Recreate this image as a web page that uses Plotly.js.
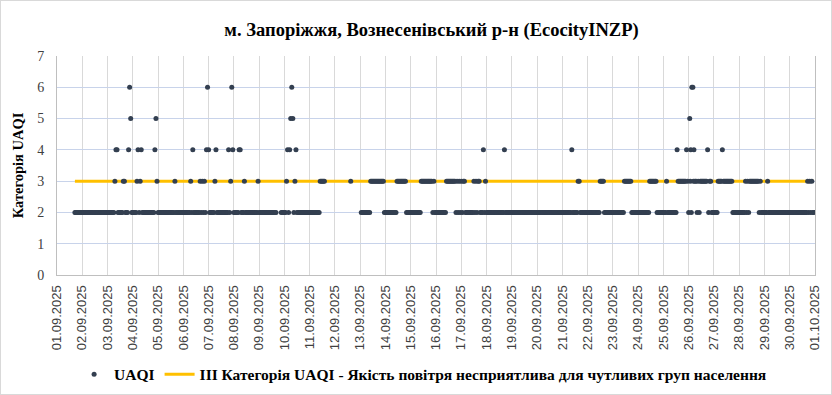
<!DOCTYPE html>
<html>
<head>
<meta charset="utf-8">
<script src="https://cdn.plot.ly/plotly-3.0.1.min.js"></script>
<style>
  html, body { margin: 0; padding: 0; background: #fff; }
  #wrap { position: relative; width: 832px; height: 395px; }
  #chart { width: 832px; height: 395px; }
  #frame { position: absolute; left: 0; top: 0; width: 830px; height: 393px; border: 1px solid #d9d9d9; pointer-events: none; }
</style>
</head>
<body>
<div id="wrap"><div id="chart"></div><div id="frame"></div></div>
<script>
// ---- Data ----
const chartTitle = "м. Запоріжжя, Вознесенівський р-н (EcocityINZP)";
const yTitle = "Категорія UAQI";
const seriesName = "UAQI";
const thresholdName = "ІІІ Категорія UAQI - Якість повітря несприятлива для чутливих груп населення";
const thresholdValue = 3;

// one entry per day
const dayDates = [
  "2025-09-01","2025-09-02","2025-09-03","2025-09-04","2025-09-05",
  "2025-09-06","2025-09-07","2025-09-08","2025-09-09","2025-09-10",
  "2025-09-11","2025-09-12","2025-09-13","2025-09-14","2025-09-15",
  "2025-09-16","2025-09-17","2025-09-18","2025-09-19","2025-09-20",
  "2025-09-21","2025-09-22","2025-09-23","2025-09-24","2025-09-25",
  "2025-09-26","2025-09-27","2025-09-28","2025-09-29","2025-09-30"
];
// hourly UAQI category per day, hours 00..23 ('-' = no reading)
const hourlyUAQI = [
  "-----------------2222222",
  "222222222222222222222222",
  "222222234422222332224652",
  "222234234222222222222453",
  "222222222222222232222222",
  "222222232422222232323246",
  "422222342222222222242364",
  "222224422232222222222223",
  "22222222222222222----222",
  "223424565234222222222222",
  "222222222233333---------",
  "---------------3--------",
  "-222222222333333333333322",
  "222222222223333333332222",
  "222222222233333333333232",
  "222222222233333333323232",
  "323322222222323233222423",
  "222222222222222224222222",
  "222222222222222222222222",
  "222222222222222222222222",
  "222222222422222332222222",
  "222222222222333322222222",
  "222222222223333333222222",
  "222222222223333333222222",
  "222322222222243333333343",
  "254664332323333333423322",
  "222233334333333333222222",
  "222222323233333333323222",
  "222322222222222222222222",
  "222222222222222223232322"
];
// additional half-hour readings
const extraTimes = ["2025-09-26 01:30", "2025-09-26 02:30", "2025-09-26 04:30"];
const extraValues = [3, 2, 3];

// ---- Build series ----
const xs = [], ys = [];
dayDates.forEach((d, i) => {
  const s = hourlyUAQI[i];
  for (let h = 0; h < 24 && h < s.length; h++) {
    const c = s[h];
    if (c === '-') continue;
    xs.push(d + " " + String(h).padStart(2, "0") + ":00");
    ys.push(Number(c));
  }
});
extraTimes.forEach((t, i) => { xs.push(t); ys.push(extraValues[i]); });

const firstTime = xs[0];
const lastTime = dayDates[dayDates.length - 1] + " 23:00";

const thresholdTrace = {
  type: "scatter", mode: "lines",
  x: [firstTime, lastTime], y: [thresholdValue, thresholdValue],
  name: "<b>" + thresholdName + "</b>",
  line: { color: "#ffc000", width: 3 },
  legendrank: 2, hoverinfo: "skip"
};
const uaqiTrace = {
  type: "scatter", mode: "markers",
  x: xs, y: ys,
  name: "<b>" + seriesName + "</b>",
  marker: { color: "#333f50", size: 5 },
  legendrank: 1
};

const layout = {
  width: 832, height: 395,
  margin: { l: 57, r: 17, t: 56, b: 120, autoexpand: false },
  paper_bgcolor: "#ffffff", plot_bgcolor: "#ffffff",
  font: { family: "Liberation Sans, Arial, sans-serif", color: "#404040" },
  showlegend: true,
  title: {
    text: "<b>" + chartTitle + "</b>",
    font: { family: "Liberation Serif, Times New Roman, serif", size: 18.5, color: "#000000" },
    x: 0.5186, xref: "container", xanchor: "center",
    y: 0.924, yref: "container", yanchor: "middle"
  },
  xaxis: {
    type: "date",
    range: ["2025-09-01", "2025-10-01"],
    tick0: "2025-09-01", dtick: 86400000,
    tickformat: "%d.%m.%Y", tickangle: -90,
    tickfont: { size: 13, color: "#404040", family: "Liberation Sans, Arial, sans-serif" },
    ticks: "", ticklabelstandoff: 4,
    showgrid: true, gridcolor: "#d9d9d9", gridwidth: 1,
    showline: true, linecolor: "#bfbfbf", linewidth: 1,
    zeroline: false, fixedrange: true, automargin: false
  },
  yaxis: {
    range: [0, 7], dtick: 1, tick0: 0,
    tickfont: { size: 14, color: "#404040", family: "Liberation Serif, Times New Roman, serif" },
    ticks: "", ticklabelstandoff: 9,
    showgrid: true, gridcolor: "#c8d3ea", gridwidth: 1,
    showline: true, linecolor: "#bfbfbf", mirror: true,
    zeroline: false, fixedrange: true, automargin: false,
    title: {
      text: "<b>" + yTitle + "</b>",
      font: { family: "Liberation Serif, Times New Roman, serif", size: 14.5, color: "#000000" },
      standoff: 10
    }
  },
  legend: {
    orientation: "h",
    x: 0.483, xanchor: "center",
    y: -0.455, yanchor: "middle",
    font: { family: "Liberation Serif, Times New Roman, serif", size: 15.5, color: "#000000" },
    traceorder: "normal",
    itemwidth: 30
  }
};

Plotly.newPlot("chart", [thresholdTrace, uaqiTrace], layout, { displayModeBar: false, staticPlot: true });
</script>
</body>
</html>
